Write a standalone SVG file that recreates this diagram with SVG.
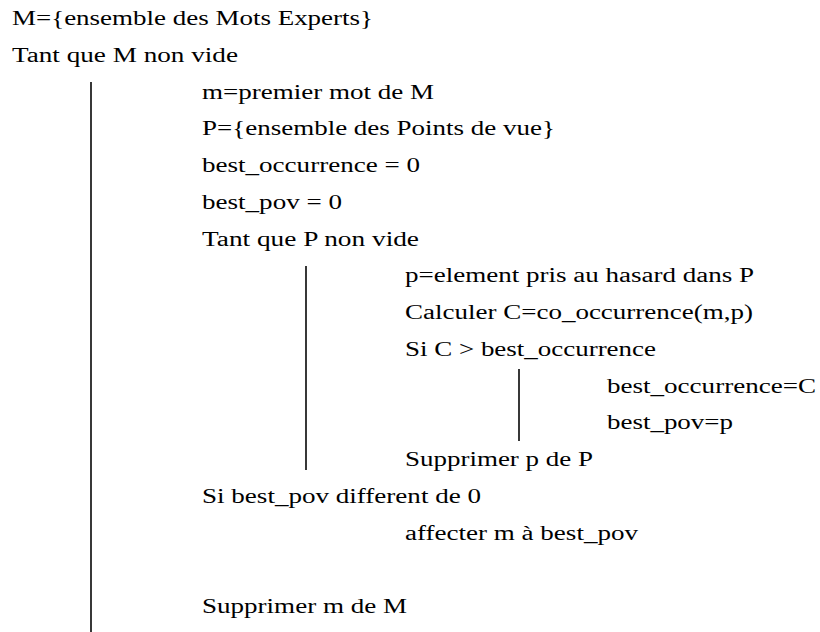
<svg xmlns="http://www.w3.org/2000/svg" width="820" height="632" viewBox="0 0 820 632">
<style>
text{font-family:"Liberation Serif","Times New Roman","DejaVu Serif",serif;font-size:20px;fill:#000}
.bar{stroke:#222;stroke-width:1.8}
</style>
<rect width="820" height="632" fill="#fff"/>
<g id="connectors">
<line class="bar" x1="91" y1="82" x2="91" y2="632"/>
<line class="bar" x1="306" y1="266" x2="306" y2="470"/>
<line class="bar" x1="519" y1="369" x2="519" y2="441"/>
</g>
<g id="n1"><text x="12" y="25" textLength="361" lengthAdjust="spacingAndGlyphs">M={ensemble des Mots Experts}</text></g>
<g id="n2"><text x="12" y="62" textLength="226" lengthAdjust="spacingAndGlyphs">Tant que M non vide</text></g>
<g id="n3"><text x="202" y="98.5" textLength="232" lengthAdjust="spacingAndGlyphs">m=premier mot de M</text></g>
<g id="n4"><text x="202" y="135" textLength="353" lengthAdjust="spacingAndGlyphs">P={ensemble des Points de vue}</text></g>
<g id="n5"><text x="202" y="172" textLength="218" lengthAdjust="spacingAndGlyphs">best_occurrence = 0</text></g>
<g id="n6"><text x="202" y="209" textLength="140" lengthAdjust="spacingAndGlyphs">best_pov = 0</text></g>
<g id="n7"><text x="202" y="245.5" textLength="217" lengthAdjust="spacingAndGlyphs">Tant que P non vide</text></g>
<g id="n8"><text x="405" y="282" textLength="349" lengthAdjust="spacingAndGlyphs">p=element pris au hasard dans P</text></g>
<g id="n9"><text x="405" y="319" textLength="348" lengthAdjust="spacingAndGlyphs">Calculer C=co_occurrence(m,p)</text></g>
<g id="n10"><text x="405" y="356" textLength="251" lengthAdjust="spacingAndGlyphs">Si C &gt; best_occurrence</text></g>
<g id="n11"><text x="607" y="392.5" textLength="209" lengthAdjust="spacingAndGlyphs">best_occurrence=C</text></g>
<g id="n12"><text x="607" y="429" textLength="126" lengthAdjust="spacingAndGlyphs">best_pov=p</text></g>
<g id="n13"><text x="405" y="466" textLength="188" lengthAdjust="spacingAndGlyphs">Supprimer p de P</text></g>
<g id="n14"><text x="202" y="503" textLength="279" lengthAdjust="spacingAndGlyphs">Si best_pov different de 0</text></g>
<g id="n15"><text x="405" y="539.5" textLength="233" lengthAdjust="spacingAndGlyphs">affecter m à best_pov</text></g>
<g id="n16"><text x="202" y="613" textLength="205" lengthAdjust="spacingAndGlyphs">Supprimer m de M</text></g>
</svg>
